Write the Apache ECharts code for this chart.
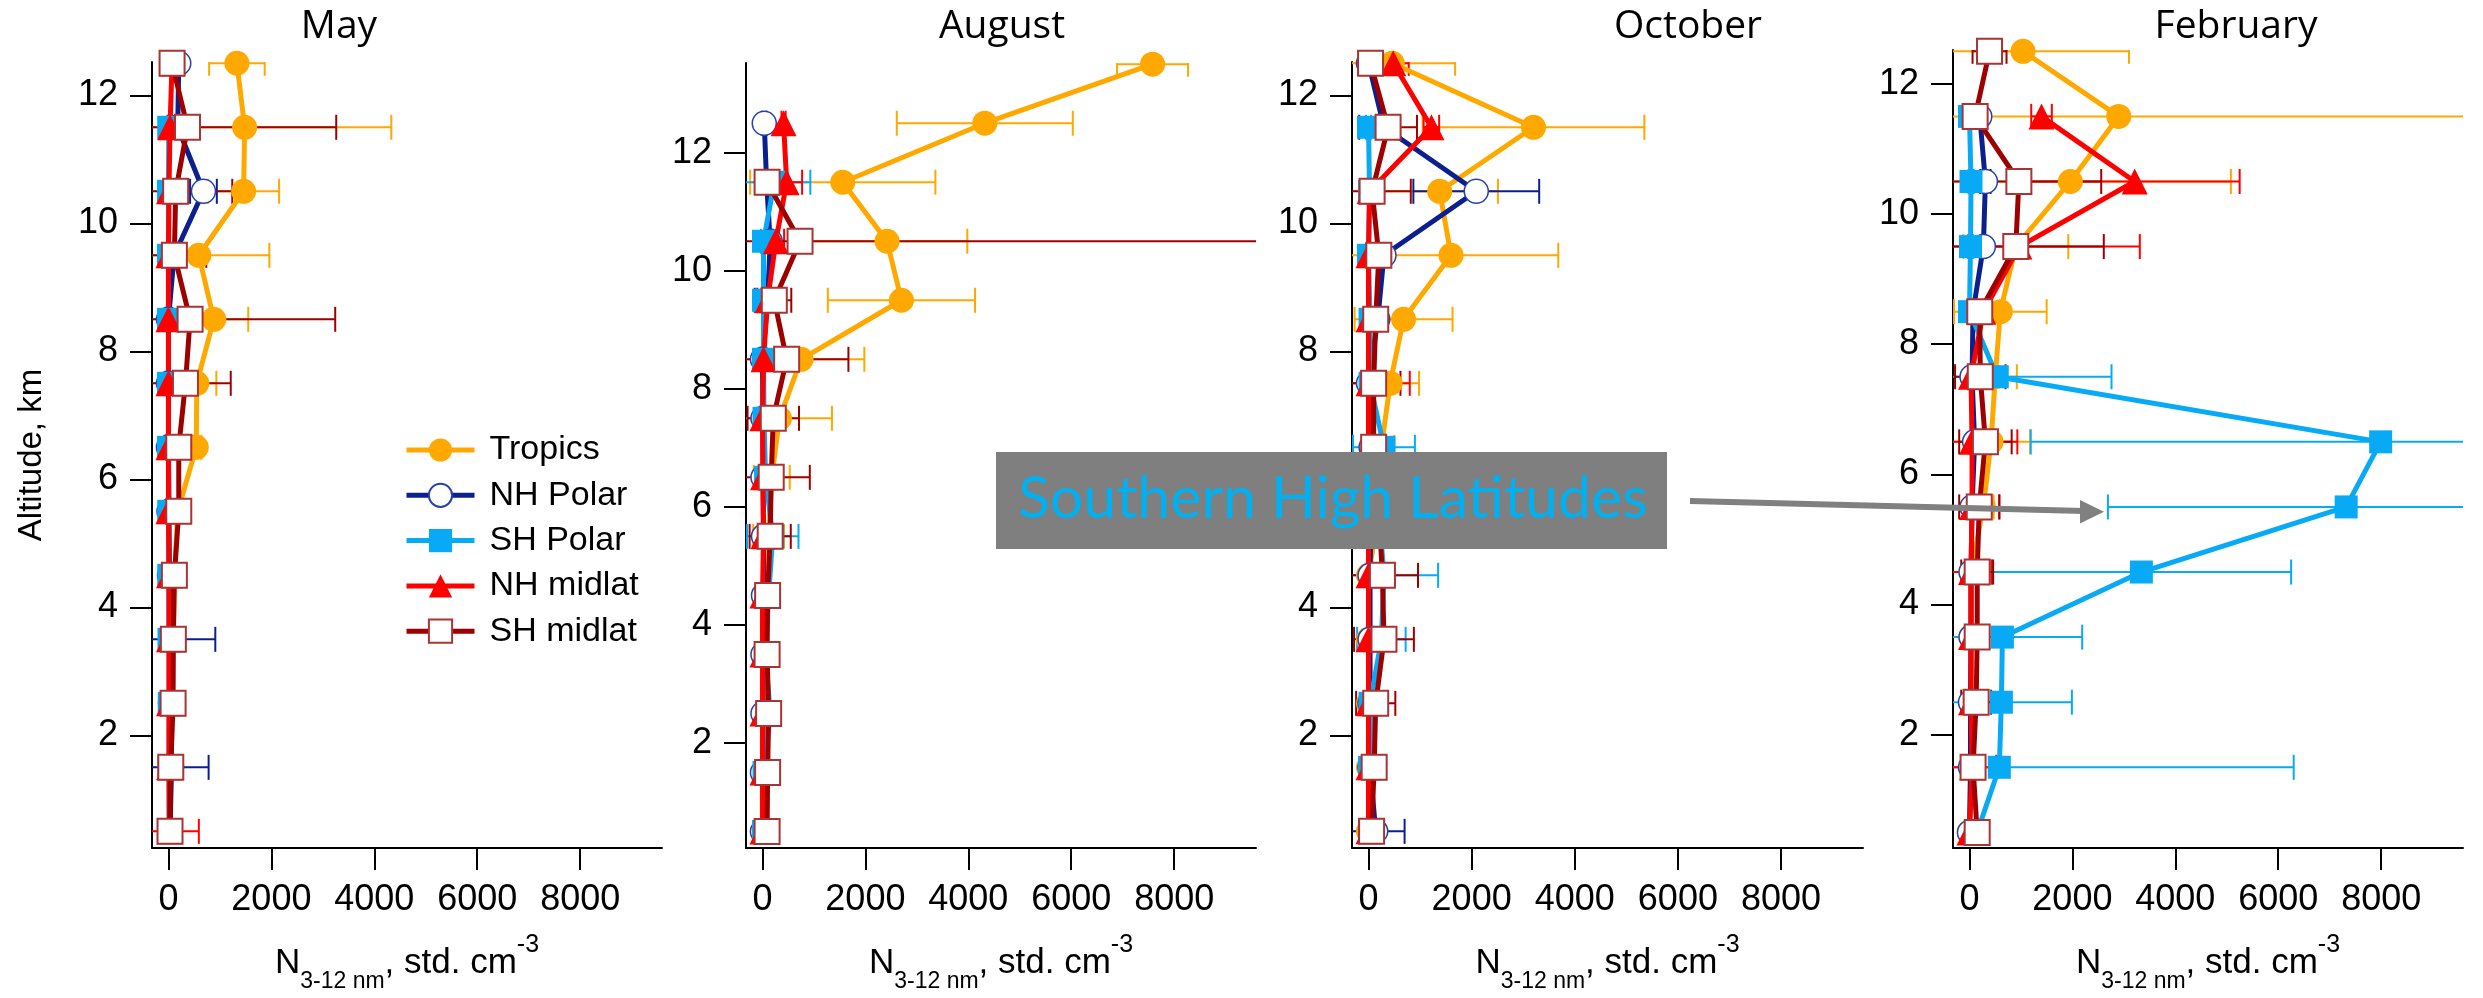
<!DOCTYPE html>
<html>
<head>
<meta charset="utf-8">
<script src="https://cdn.jsdelivr.net/npm/echarts@6/dist/echarts.min.js"></script>
<style>
  html, body { margin: 0; padding: 0; background: #ffffff; }
  #chart { width: 2483px; height: 998px; }
</style>
</head>
<body>
<div id="chart"></div>
<script>
// Altitude bins (km), bottom to top
const ALTITUDES = [0.5, 1.5, 2.5, 3.5, 4.5, 5.5, 6.5, 7.5, 8.5, 9.5, 10.5, 11.5, 12.5, 13.5];
const MONTHS = ['May', 'August', 'October', 'February'];
const REGIONS = ['Tropics', 'NH Polar', 'SH Polar', 'NH midlat', 'SH midlat'];
const X_TICKS = [0, 2000, 4000, 6000, 8000];
const Y_TICKS = [2, 4, 6, 8, 10, 12];

// Mean N(3-12 nm) and its spread (std. cm^-3) per altitude bin
const MAY_TROPICS      = [20, 40, 60, 90, 120, 180, 540, 550, 880, 590, 1460, 1480, 1330, null];
const MAY_TROPICS_SD   = [80, 80, 80, 100, 100, 150, 100, 380, 670, 1370, 690, 2850, 540, null];
const MAY_NH_POLAR     = [30, 60, 40, 60, 20, 10, 0, 0, 0, 110, 680, 180, 200, null];
const MAY_NH_POLAR_SD  = [60, 720, 60, 850, 60, 60, 60, 60, 60, 60, 260, 60, 60, null];
const MAY_SH_POLAR     = [10, 10, 15, 10, 5, 5, 0, 0, 0, 0, 0, 5, null, null];
const MAY_SH_POLAR_SD  = [30, 30, 30, 30, 30, 30, 30, 30, 30, 30, 30, 30, null, null];
const MAY_NH_MIDLAT    = [20, 10, 10, 10, 10, 0, 0, 0, 0, 0, 10, 30, 70, null];
const MAY_NH_MIDLAT_SD = [570, 40, 40, 40, 40, 40, 40, 40, 40, 40, 40, 40, 40, null];
const MAY_SH_MIDLAT    = [30, 45, 90, 95, 115, 200, 200, 330, 420, 115, 140, 370, 70, null];
const MAY_SH_MIDLAT_SD = [60, 60, 60, 60, 60, 60, 280, 880, 2820, 620, 1100, 2890, 60, null];

const AUG_TROPICS      = [30, 40, 50, 60, 80, 120, 180, 330, 750, 2700, 2420, 1560, 4320, 7580];
const AUG_TROPICS_SD   = [60, 60, 60, 80, 100, 300, 350, 1020, 1230, 1430, 1560, 1800, 1710, 690];
const AUG_NH_POLAR     = [0, 0, 10, 10, 20, 20, 10, 10, 0, 100, 150, 80, 35, null];
const AUG_NH_POLAR_SD  = [50, 50, 50, 50, 50, 50, 50, 50, 50, 250, 50, 50, 50, null];
const AUG_SH_POLAR     = [20, 30, 150, 60, 120, 200, 60, 30, 20, 20, 20, 230, null, null];
const AUG_SH_POLAR_SD  = [50, 50, 50, 50, 50, 500, 50, 50, 50, 50, 50, 700, null, null];
const AUG_NH_MIDLAT    = [0, 0, 0, 0, 0, 20, 10, 0, 20, 100, 260, 470, 410, null];
const AUG_NH_MIDLAT_SD = [40, 40, 40, 40, 40, 40, 40, 40, 40, 40, 160, 300, 40, null];
const AUG_SH_MIDLAT    = [90, 100, 120, 90, 100, 150, 170, 210, 470, 230, 730, 90, null, null];
const AUG_SH_MIDLAT_SD = [50, 50, 50, 50, 50, 400, 750, 500, 1200, 330, 9600, 50, null, null];

const OCT_TROPICS      = [0, 0, 0, 0, 0, 200, 250, 420, 680, 1600, 1380, 3200, 460, null];
const OCT_TROPICS_SD   = [50, 50, 50, 50, 60, 200, 250, 560, 950, 2080, 1130, 2150, 1220, null];
const OCT_NH_POLAR     = [140, 30, 30, 30, 30, 50, 50, 0, 180, 300, 2090, 300, 0, null];
const OCT_NH_POLAR_SD  = [560, 50, 50, 50, 50, 50, 50, 50, 50, 50, 1220, 50, 50, null];
const OCT_SH_POLAR     = [20, 20, 30, 250, 300, 200, 300, 30, 30, 0, 20, 0, null, null];
const OCT_SH_POLAR_SD  = [50, 50, 50, 470, 1050, 300, 600, 50, 50, 50, 50, 50, null, null];
const OCT_NH_MIDLAT    = [0, 0, 0, 0, 0, 0, 0, 0, 0, 0, 20, 1220, 480, null];
const OCT_NH_MIDLAT_SD = [40, 40, 40, 40, 40, 40, 40, 800, 40, 40, 40, 150, 300, null];
const OCT_SH_MIDLAT    = [60, 110, 140, 300, 270, 200, 100, 100, 140, 200, 70, 380, 40, null];
const OCT_SH_MIDLAT_SD = [50, 50, 380, 580, 690, 200, 100, 520, 50, 50, 750, 560, 50, null];

const FEB_TROPICS      = [0, 30, 30, 30, 30, 270, 420, 500, 600, 900, 1960, 2900, 1040, null];
const FEB_TROPICS_SD   = [50, 50, 50, 50, 50, 200, 760, 420, 900, 1020, 3120, 6800, 2060, null];
const FEB_NH_POLAR     = [0, 20, 20, 30, 30, 50, 100, 50, 70, 270, 310, 200, null, null];
const FEB_NH_POLAR_SD  = [50, 50, 50, 50, 50, 50, 50, 50, 50, 50, 100, 50, null, null];
const FEB_SH_POLAR     = [150, 580, 620, 640, 3340, 7320, 7990, 540, 0, 20, 30, 0, null, null];
const FEB_SH_POLAR_SD  = [50, 5720, 1370, 1550, 2910, 4630, 6800, 2220, 50, 50, 50, 50, null, null];
const FEB_NH_MIDLAT    = [0, 50, 30, 30, 30, 50, 50, 30, 270, 970, 3210, 1400, null, null];
const FEB_NH_MIDLAT_SD = [50, 470, 50, 50, 400, 530, 880, 50, 50, 2340, 2040, 200, null, null];
const FEB_SH_MIDLAT    = [150, 70, 130, 150, 150, 190, 310, 210, 200, 900, 960, 110, 390, null];
const FEB_SH_MIDLAT_SD = [50, 50, 290, 50, 310, 390, 510, 490, 50, 1710, 1600, 50, 330, null];

// Per-month lookup built from the arrays above (order follows REGIONS)
const PROFILES = [
  [[MAY_TROPICS, MAY_TROPICS_SD], [MAY_NH_POLAR, MAY_NH_POLAR_SD], [MAY_SH_POLAR, MAY_SH_POLAR_SD], [MAY_NH_MIDLAT, MAY_NH_MIDLAT_SD], [MAY_SH_MIDLAT, MAY_SH_MIDLAT_SD]],
  [[AUG_TROPICS, AUG_TROPICS_SD], [AUG_NH_POLAR, AUG_NH_POLAR_SD], [AUG_SH_POLAR, AUG_SH_POLAR_SD], [AUG_NH_MIDLAT, AUG_NH_MIDLAT_SD], [AUG_SH_MIDLAT, AUG_SH_MIDLAT_SD]],
  [[OCT_TROPICS, OCT_TROPICS_SD], [OCT_NH_POLAR, OCT_NH_POLAR_SD], [OCT_SH_POLAR, OCT_SH_POLAR_SD], [OCT_NH_MIDLAT, OCT_NH_MIDLAT_SD], [OCT_SH_MIDLAT, OCT_SH_MIDLAT_SD]],
  [[FEB_TROPICS, FEB_TROPICS_SD], [FEB_NH_POLAR, FEB_NH_POLAR_SD], [FEB_SH_POLAR, FEB_SH_POLAR_SD], [FEB_NH_MIDLAT, FEB_NH_MIDLAT_SD], [FEB_SH_MIDLAT, FEB_SH_MIDLAT_SD]]
];

// Marker / line appearance per region
const REGION_STYLE = {
  'Tropics':   { line: '#FFA800', symbol: 'circle',   size: 25, fill: '#FFA800', border: '#FFA800', bw: 0 },
  'NH Polar':  { line: '#0B1F8E', symbol: 'circle',   size: 24, fill: '#FFFFFF', border: '#2642A8', bw: 1.5 },
  'SH Polar':  { line: '#08AAF5', symbol: 'rect',     size: 23, fill: '#08AAF5', border: '#08AAF5', bw: 0 },
  'NH midlat': { line: '#FF0000', symbol: 'triangle', size: 26, fill: '#FF0000', border: '#FF0000', bw: 0 },
  'SH midlat': { line: '#9E0000', symbol: 'rect',     size: 25, fill: '#FFFFFF', border: '#A83434', bw: 2 }
};

// Panel layout
const PANELS = [
  { grid: { left: 152,  top: 62, width: 510, height: 801 }, yMin: 0.24, yMax: 12.52, titleX: 339 },
  { grid: { left: 746,  top: 63, width: 510, height: 800 }, yMin: 0.22, yMax: 13.52, titleX: 1002 },
  { grid: { left: 1352, top: 62, width: 511, height: 801 }, yMin: 0.24, yMax: 12.52, titleX: 1688 },
  { grid: { left: 1953, top: 50, width: 510, height: 801 }, yMin: 0.26, yMax: 12.52, titleX: 2236 }
];
const X_MIN = -320, X_MAX = 9590;

const AXIS_FONT = '"Liberation Sans", Arial, sans-serif';
const TITLE_FONT = '"Open Sans", "Noto Sans", sans-serif';

const chart = echarts.init(document.getElementById('chart'), null, { renderer: 'canvas', width: 2483, height: 998 });

function errorBars(name, color, idx, rows) {
  return {
    type: 'custom',
    name: name + ' spread',
    xAxisIndex: idx,
    yAxisIndex: idx,
    clip: true,
    silent: true,
    animation: false,
    encode: { x: 0, y: 1 },
    data: rows,
    renderItem: function (params, api) {
      const v = api.value(0), a = api.value(1), e = api.value(2);
      const lo = api.coord([v - e, a]);
      const hi = api.coord([v + e, a]);
      const half = 12.5;
      const st = { stroke: color, lineWidth: 2 };
      return {
        type: 'group',
        children: [
          { type: 'line', shape: { x1: lo[0], y1: lo[1], x2: hi[0], y2: hi[1] }, style: st },
          { type: 'line', shape: { x1: lo[0], y1: lo[1] - half, x2: lo[0], y2: lo[1] + half }, style: st },
          { type: 'line', shape: { x1: hi[0], y1: hi[1] - half, x2: hi[0], y2: hi[1] + half }, style: st }
        ]
      };
    }
  };
}

const grids = [], xAxes = [], yAxes = [], series = [], graphics = [];

PANELS.forEach(function (p, idx) {
  grids.push(Object.assign({ containLabel: false }, p.grid));

  xAxes.push({
    type: 'value', gridIndex: idx, min: X_MIN, max: X_MAX,
    name: '{n|N}{s|3-12 nm}{n|, std. cm}{p|-3}',
    nameLocation: 'middle', nameGap: 85,
    nameTextStyle: {
      color: '#000', fontFamily: AXIS_FONT, fontSize: 35, lineHeight: 60,
      rich: {
        n: { fontFamily: AXIS_FONT, fontSize: 35, lineHeight: 60, color: '#000' },
        s: { fontFamily: AXIS_FONT, fontSize: 23, lineHeight: 48, verticalAlign: 'bottom', color: '#000' },
        p: { fontFamily: AXIS_FONT, fontSize: 25, lineHeight: 18, verticalAlign: 'top', color: '#000' }
      }
    },
    axisLine: { show: true, onZero: false, lineStyle: { color: '#000', width: 2 } },
    axisTick: { show: true, inside: false, length: 22, lineStyle: { color: '#000', width: 2 }, customValues: X_TICKS },
    axisLabel: {
      show: true, customValues: X_TICKS, margin: 34, color: '#000', fontFamily: AXIS_FONT, fontSize: 36,
      formatter: function (v) { return String(v); }
    },
    splitLine: { show: false }
  });

  yAxes.push({
    type: 'value', gridIndex: idx, min: p.yMin, max: p.yMax,
    name: idx === 0 ? 'Altitude, km' : '',
    nameLocation: 'middle', nameRotate: 90, nameGap: 104,
    nameTextStyle: { color: '#000', fontFamily: AXIS_FONT, fontSize: 33 },
    axisLine: { show: true, onZero: false, lineStyle: { color: '#000', width: 2 } },
    axisTick: { show: true, inside: false, length: 22, lineStyle: { color: '#000', width: 2 }, customValues: Y_TICKS },
    axisLabel: {
      show: true, customValues: Y_TICKS, margin: 34, color: '#000', fontFamily: AXIS_FONT, fontSize: 36,
      formatter: function (v) { return String(v); }
    },
    splitLine: { show: false }
  });

  REGIONS.forEach(function (region, r) {
    const st = REGION_STYLE[region];
    const means = PROFILES[idx][r][0];
    const spreads = PROFILES[idx][r][1];
    const pts = [], bars = [];
    ALTITUDES.forEach(function (alt, k) {
      if (means[k] === null || means[k] === undefined) return;
      pts.push([means[k], alt]);
      bars.push([means[k], alt, spreads[k]]);
    });
    series.push(errorBars(region, st.line, idx, bars));
    series.push({
      type: 'line', name: region, xAxisIndex: idx, yAxisIndex: idx,
      data: pts,
      symbol: st.symbol, symbolSize: st.size,
      showSymbol: true, showAllSymbol: true,
      clip: true, silent: true, animation: false,
      lineStyle: { color: st.line, width: 5 },
      itemStyle: { color: st.fill, borderColor: st.border, borderWidth: st.bw },
      emphasis: { disabled: true }
    });
  });

  graphics.push({
    type: 'text', x: p.titleX, y: 27, z: 100,
    style: { text: MONTHS[idx], fontFamily: TITLE_FONT, fontSize: 39, fill: '#000', align: 'center', verticalAlign: 'middle' }
  });
});

// Callout for the southern high-latitude profile
graphics.push({
  type: 'rect', z: 100,
  shape: { x: 996, y: 452, width: 671, height: 97 },
  style: { fill: '#7F7F7F' }
});
graphics.push({
  type: 'text', x: 1018, y: 499, z: 101,
  style: { text: 'Southern High Latitudes', fontFamily: 'Lato, "Open Sans", sans-serif', fontSize: 59, fill: '#00B0F0', align: 'left', verticalAlign: 'middle' }
});
graphics.push({
  type: 'polyline', z: 100,
  shape: { points: [[1690, 501], [2084, 511]] },
  style: { stroke: '#808080', lineWidth: 6 }
});
graphics.push({
  type: 'polygon', z: 100,
  shape: { points: [[2104, 511.7], [2080, 500], [2080, 523.5]] },
  style: { fill: '#808080' }
});

chart.setOption({
  backgroundColor: '#ffffff',
  animation: false,
  grid: grids,
  xAxis: xAxes,
  yAxis: yAxes,
  legend: {
    data: REGIONS,
    orient: 'vertical',
    left: 404, top: 433,
    itemWidth: 68, itemHeight: 29, itemGap: 11.3,
    padding: 0,
    selectedMode: false,
    lineStyle: { width: 5 },
    textStyle: { color: '#000', fontFamily: AXIS_FONT, fontSize: 34, padding: [0, 0, 0, 10] }
  },
  series: series,
  graphic: graphics
});
</script>
</body>
</html>
